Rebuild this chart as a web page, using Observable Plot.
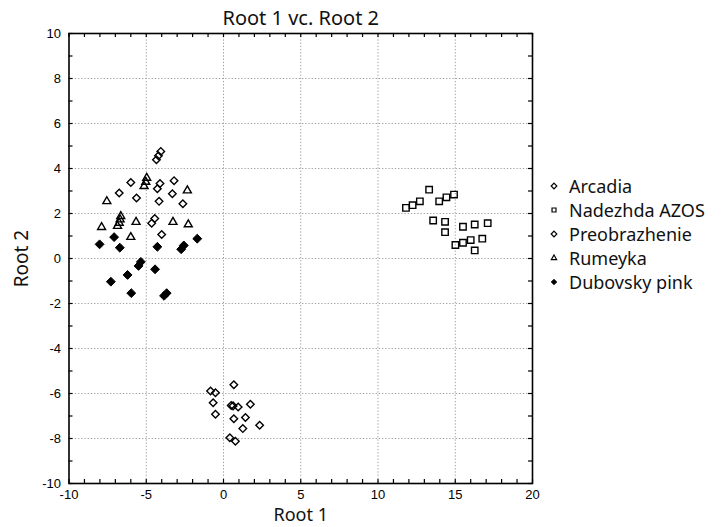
<!DOCTYPE html>
<html><head><meta charset="utf-8">
<script src="https://cdn.jsdelivr.net/npm/d3@7"></script>
<script src="https://cdn.jsdelivr.net/npm/@observablehq/plot@0.6"></script>
<style>
body{margin:0;background:#fff;}
#wrap{position:relative;width:726px;height:527px;overflow:hidden;}
#legend{position:absolute;left:549px;top:174px;font-family:"Noto Sans",sans-serif;font-size:18px;line-height:20px;color:#111;}
.row{height:24px;display:flex;align-items:center;white-space:nowrap;}
.row svg{margin-right:10px;flex:none;}
</style></head><body><div id="wrap"><div id="legend"></div></div>
<script>
// ---- data (Root 1, Root 2) ----
const arcadia = [[0.67,-5.61],[-0.84,-5.89],[-0.52,-5.97],[-0.67,-6.41],[-0.52,-6.92],[0.5,-6.53],[0.95,-6.6],[1.74,-6.48],[0.67,-7.12],[1.42,-7.07],[2.34,-7.41],[1.25,-7.56],[0.41,-7.97],[0.77,-8.12],[0.62,-6.55]];
const nadezhda = [[11.81,2.25],[12.24,2.37],[12.71,2.54],[13.31,3.06],[13.96,2.54],[14.43,2.72],[14.92,2.84],[13.57,1.69],[14.34,1.63],[14.34,1.17],[15.5,1.41],[16.26,1.51],[17.1,1.57],[15.01,0.6],[15.5,0.7],[16.0,0.82],[16.75,0.88],[16.26,0.36]];
const preobrazhenie = [[-4.06,4.76],[-4.21,4.57],[-4.34,4.39],[-6.0,3.38],[-6.75,2.91],[-5.63,2.69],[-4.11,3.33],[-4.28,3.1],[-3.2,3.46],[-3.31,2.88],[-4.17,2.54],[-2.63,2.43],[-4.45,1.78],[-4.65,1.57],[-4.0,1.07]];
const rumeyka = [[-4.97,3.58],[-5.03,3.4],[-5.14,3.21],[-7.55,2.54],[-2.34,3.02],[-6.65,1.88],[-6.69,1.73],[-6.75,1.58],[-6.86,1.44],[-7.89,1.39],[-5.66,1.62],[-6.0,0.95],[-3.27,1.62],[-2.28,1.51]];
const dubovsky = [[-8.02,0.63],[-7.08,0.95],[-6.71,0.48],[-4.28,0.52],[-2.57,0.58],[-2.74,0.41],[-1.7,0.88],[-5.35,-0.15],[-5.5,-0.33],[-4.43,-0.48],[-6.21,-0.73],[-7.29,-1.03],[-5.97,-1.54],[-3.68,-1.54],[-3.85,-1.66]];
const seriesNames = ["Arcadia","Nadezhda AZOS","Preobrazhenie","Rumeyka","Dubovsky pink"];
const xTickLabels = [-10,-5,0,5,10,15,20];
const yTickLabels = [-10,-8,-6,-4,-2,0,2,4,6,8,10];
const xMinor = d3.range(-10,21,1);
const yMinor = d3.range(-10,11,1);
const title = "Root 1 vc. Root 2";
const xLabel = "Root 1", yLabel = "Root 2";

// ---- styles ----
const styles = [
  {data: arcadia, symbol:"diamond2", r:3.4, fill:"none"},
  {data: nadezhda, symbol:"square2", r:4.1, fill:"none"},
  {data: preobrazhenie, symbol:"diamond2", r:3.4, fill:"none"},
  {data: rumeyka, symbol:"triangle2", r:3.8, fill:"none"},
  {data: dubovsky, symbol:"diamond2", r:4.0, fill:"black"}
];

const W = 545, H = 527;
const mL = 68.5, mR = W - 532, mT = 33, mB = H - 483;
const innerH = H - mT - mB, innerW = W - mL - mR;
const tickLen = 4;
const font = '"Noto Sans", sans-serif';

const chart = Plot.plot({
  width: W, height: H,
  marginLeft: mL, marginRight: mR, marginTop: mT, marginBottom: mB,
  style: {fontFamily: '"Liberation Sans", Arial, sans-serif', fontSize: "13px", color: "black", background: "white"},
  x: {domain: [-10, 20]},
  y: {domain: [-10, 10]},
  marks: [
    Plot.gridX(xTickLabels.slice(1,-1), {stroke:"#999", strokeOpacity:1, strokeDasharray:"1.2,2", strokeWidth:1}),
    Plot.gridY(yTickLabels.slice(1,-1), {stroke:"#999", strokeOpacity:1, strokeDasharray:"1.2,2", strokeWidth:1}),
    Plot.tickX(xMinor, {x: d=>d, insetTop: innerH - tickLen, stroke:"black", strokeWidth:1.2}),
    Plot.tickX(xMinor, {x: d=>d, insetBottom: innerH - tickLen, stroke:"black", strokeWidth:1.2}),
    Plot.tickY(yMinor, {y: d=>d, insetRight: innerW - tickLen, stroke:"black", strokeWidth:1.2}),
    Plot.tickY(yMinor, {y: d=>d, insetLeft: innerW - tickLen, stroke:"black", strokeWidth:1.2}),
    Plot.axisX(xTickLabels, {anchor:"bottom", tickSize:0, tickPadding:6, label:null, fontSize:13, tickFormat: d => String(d)}),
    Plot.axisY(yTickLabels, {anchor:"left", tickSize:0, tickPadding:8, label:null, fontSize:13, tickFormat: d => String(d)}),
    ...styles.map(s => Plot.dot(s.data, {x: d=>d[0], y: d=>d[1], symbol: s.symbol, r: s.r, fill: s.fill, stroke:"black", strokeWidth: s.fill === "none" ? 1.4 : 1})),
    Plot.frame({stroke:"black", strokeWidth:1.6}),
    Plot.text([title], {frameAnchor:"top", lineAnchor:"middle", dy:-15, fontSize:20, fontFamily: font, fill:"#111"}),
    Plot.text([xLabel], {frameAnchor:"bottom", lineAnchor:"middle", dy:32, fontSize:18, fontFamily: font, fill:"#111"}),
    Plot.text([yLabel], {frameAnchor:"left", textAnchor:"middle", lineAnchor:"middle", dx:-47, rotate:-90, fontSize:19, fontFamily: font, fill:"#111"})
  ]
});
document.getElementById("wrap").prepend(chart);

// ---- legend ----
const legend = document.getElementById("legend");
seriesNames.forEach((name, i) => {
  const s = styles[i];
  const row = document.createElement("div");
  row.className = "row";
  const sym = {diamond2: d3.symbolDiamond2, square2: d3.symbolSquare2, triangle2: d3.symbolTriangle2}[s.symbol];
  const path = d3.symbol(sym, 20)();
  row.innerHTML = `<svg width="10" height="10" viewBox="-5 -5 10 10"><path d="${path}" fill="${s.fill}" stroke="black" stroke-width="${s.fill==='none'?1.2:0.8}"/></svg><span>${name}</span>`;
  legend.appendChild(row);
});
</script>
</body></html>
